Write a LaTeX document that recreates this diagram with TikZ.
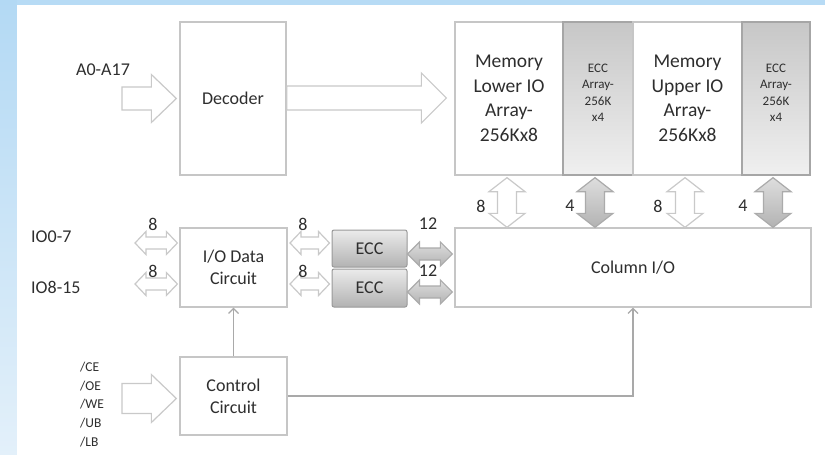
\documentclass[tikz,border=0pt]{standalone}
\usepackage{fontspec}
\setmainfont{Carlito}
\usetikzlibrary{arrows.meta,calc}
\definecolor{txt}{HTML}{2E2E2E}
\definecolor{bord}{HTML}{C6C6C6}
\definecolor{bluetop}{HTML}{B3D9F4}
\definecolor{bluebot}{HTML}{E3F0FA}
\definecolor{arrline}{HTML}{C9C9C9}
\definecolor{conncol}{HTML}{A9A9A9}

% horizontal single block arrow: style, from, to, half shaft, half head, head length
\newcommand\hsarrow[6]{%
  \path[#1] let \p1=(#2), \p2=(#3) in
    (\x1,\y1+#4) -- (\x2-#6,\y1+#4) -- (\x2-#6,\y1+#5) -- (\x2,\y1)
    -- (\x2-#6,\y1-#5) -- (\x2-#6,\y1-#4) -- (\x1,\y1-#4) -- cycle;}
% horizontal double block arrow
\newcommand\hdarrow[6]{%
  \path[#1] let \p1=(#2), \p2=(#3) in
    (\x1,\y1) -- (\x1+#6,\y1+#5) -- (\x1+#6,\y1+#4) -- (\x2-#6,\y1+#4)
    -- (\x2-#6,\y1+#5) -- (\x2,\y1) -- (\x2-#6,\y1-#5) -- (\x2-#6,\y1-#4)
    -- (\x1+#6,\y1-#4) -- (\x1+#6,\y1-#5) -- cycle;}
% vertical double block arrow (from top point to bottom point)
\newcommand\vdarrow[6]{%
  \path[#1] let \p1=(#2), \p2=(#3) in
    (\x1,\y1) -- (\x1+#5,\y1-#6) -- (\x1+#4,\y1-#6) -- (\x1+#4,\y2+#6)
    -- (\x1+#5,\y2+#6) -- (\x1,\y2) -- (\x1-#5,\y2+#6) -- (\x1-#4,\y2+#6)
    -- (\x1-#4,\y1-#6) -- (\x1-#5,\y1-#6) -- cycle;}

\tikzset{
  box/.style={draw=bord, line width=1.3pt, fill=white, inner sep=0pt,
    text=txt, align=center, font=\fontsize{18}{22}\selectfont},
  eccarr/.style={draw=black!35, line width=1.3pt, top color=black!22,
    bottom color=black!6, inner sep=0pt},
  eccarrtxt/.style={text=txt, align=center, inner sep=0pt,
    font=\fontsize{13}{16.5}\selectfont},
  eccbox/.style={draw=black!40, line width=1pt, rounded corners=2pt,
    top color=black!8, bottom color=black!30, inner sep=0pt, text=txt,
    font=\fontsize{18}{22}\selectfont},
  lbl/.style={text=txt, inner sep=0pt, font=\fontsize{18}{22}\selectfont},
  warr/.style={draw=arrline, line width=1.2pt, fill=white},
  garr/.style={draw=black!33, line width=1.2pt, top color=black!13, bottom color=black!30},
  conn/.style={draw=conncol, line width=1.4pt, -{Straight Barb[length=5pt,width=10pt,line width=1.2pt]}},
}

\begin{document}
\begin{tikzpicture}[x=1pt,y=-1pt]
\useasboundingbox (0,0) rectangle (825,455);
% background
\shade[top color=bluetop, bottom color=bluebot] (0,0) rectangle (17,455);
\fill[bluetop!95!white] (17,0) rectangle (825,5);
\fill[white] (17,5) rectangle (825,455);

% blocks
\node[box, minimum width=106pt, minimum height=153pt] (dec) at (233,98.5) {Decoder};
\node[box, minimum width=108pt, minimum height=153pt,
      font=\fontsize{19.5}{24.5}\selectfont] (memL) at (509,98.5) {Memory\\Lower IO\\Array-\\256Kx8};
\node[eccarr, minimum width=70pt, minimum height=153pt] (eccA) at (598,98.5) {};
\node[box, minimum width=109pt, minimum height=153pt,
      font=\fontsize{19.5}{24.5}\selectfont] (memU) at (687.5,98.5) {Memory\\Upper IO\\Array-\\256Kx8};
\node[eccarr, minimum width=68pt, minimum height=153pt] (eccB) at (776,98.5) {};
\node[eccarrtxt] (eccAt) at (598,93) {ECC\\Array-\\256K\\x4};
\node[eccarrtxt] (eccBt) at (776,93) {ECC\\Array-\\256K\\x4};

\node[box, minimum width=356pt, minimum height=79pt] (col) at (633,267.5) {Column I/O};
\node[box, minimum width=107pt, minimum height=79pt] (iod) at (233.5,267.5) {I/O Data\\Circuit};
\node[eccbox, minimum width=75pt, minimum height=37pt] (ecc1) at (369.5,248.5) {ECC};
\node[eccbox, minimum width=75pt, minimum height=38pt] (ecc2) at (369.5,288) {ECC};
\node[box, minimum width=107pt, minimum height=78pt] (ctl) at (233.5,396) {Control\\Circuit};

% labels
\node[lbl] (la) at (103,70) {A0-A17};
\node[lbl, anchor=west] (lio0) at (31,237) {IO0-7};
\node[lbl, anchor=west] (lio8) at (31,287) {IO8-15};
\node[text=txt, inner sep=0pt, anchor=west, align=left,
      font=\fontsize{13.5}{18.75}\selectfont] (lctl) at (80,404.5) {/CE\\/OE\\/WE\\/UB\\/LB};

% input block arrows
\coordinate (ain) at (122,98.5);
\hsarrow{warr}{ain}{[xshift=-3pt]dec.west}{11.5pt}{24pt}{25pt}
\hsarrow{warr}{[yshift=0.5pt]dec.east}{[xshift=-8pt]memL.west}{12pt}{25pt}{25pt}
\coordinate (cin) at (122,398.5);
\hsarrow{warr}{cin}{[xshift=-3pt]ctl.west}{15pt}{24pt}{25pt}

% IO double arrows
\coordinate (io0) at (135,243);
\coordinate (io8) at (135,284);
\hdarrow{warr}{io0}{[xshift=-2pt]iod.west}{6pt}{11.5pt}{11pt}
\hdarrow{warr}{io8}{[xshift=-2pt]iod.west}{6pt}{11.5pt}{11pt}
\coordinate (d0) at (290,243);
\coordinate (d8) at (290,284);
\hdarrow{warr}{d0}{[xshift=-2pt]ecc1.west}{6pt}{11.5pt}{11pt}
\hdarrow{warr}{d8}{[xshift=-2pt]ecc1.west}{6pt}{11.5pt}{11pt}
\hdarrow{garr}{[yshift=-5.5pt]ecc1.east}{[xshift=-2pt]col.west}{6pt}{12pt}{12pt}
\hdarrow{garr}{[yshift=-4pt]ecc2.east}{[xshift=-2pt]col.west}{6pt}{12pt}{12pt}

\node[lbl] (n1) at (153,224) {8};
\node[lbl] (n2) at (153,271) {8};
\node[lbl] (n3) at (303,224) {8};
\node[lbl] (n4) at (303,271) {8};
\node[lbl] (n5) at (428,224) {12};
\node[lbl] (n6) at (428,271) {12};

% vertical double arrows
\vdarrow{warr}{[xshift=-2pt,yshift=-2pt]memL.south}{[xshift=-2pt]memL.south |- col.north}{9.5pt}{18pt}{14pt}
\vdarrow{garr}{[xshift=-3pt,yshift=-2pt]eccA.south}{[xshift=-3pt]eccA.south |- col.north}{9.5pt}{18pt}{14pt}
\vdarrow{warr}{[xshift=-2.5pt,yshift=-2pt]memU.south}{[xshift=-2.5pt]memU.south |- col.north}{9.5pt}{18pt}{14pt}
\vdarrow{garr}{[xshift=-3pt,yshift=-2pt]eccB.south}{[xshift=-3pt]eccB.south |- col.north}{9.5pt}{18pt}{14pt}
\node[lbl] (m1) at (481,206) {8};
\node[lbl] (m2) at (570,206) {4};
\node[lbl] (m3) at (658,206) {8};
\node[lbl] (m4) at (743,206) {4};

% control connectors
\draw[conn] (ctl.north) -- (iod.south);
\draw[conn] (ctl.east) -| (col.south);
\end{tikzpicture}
\end{document}
